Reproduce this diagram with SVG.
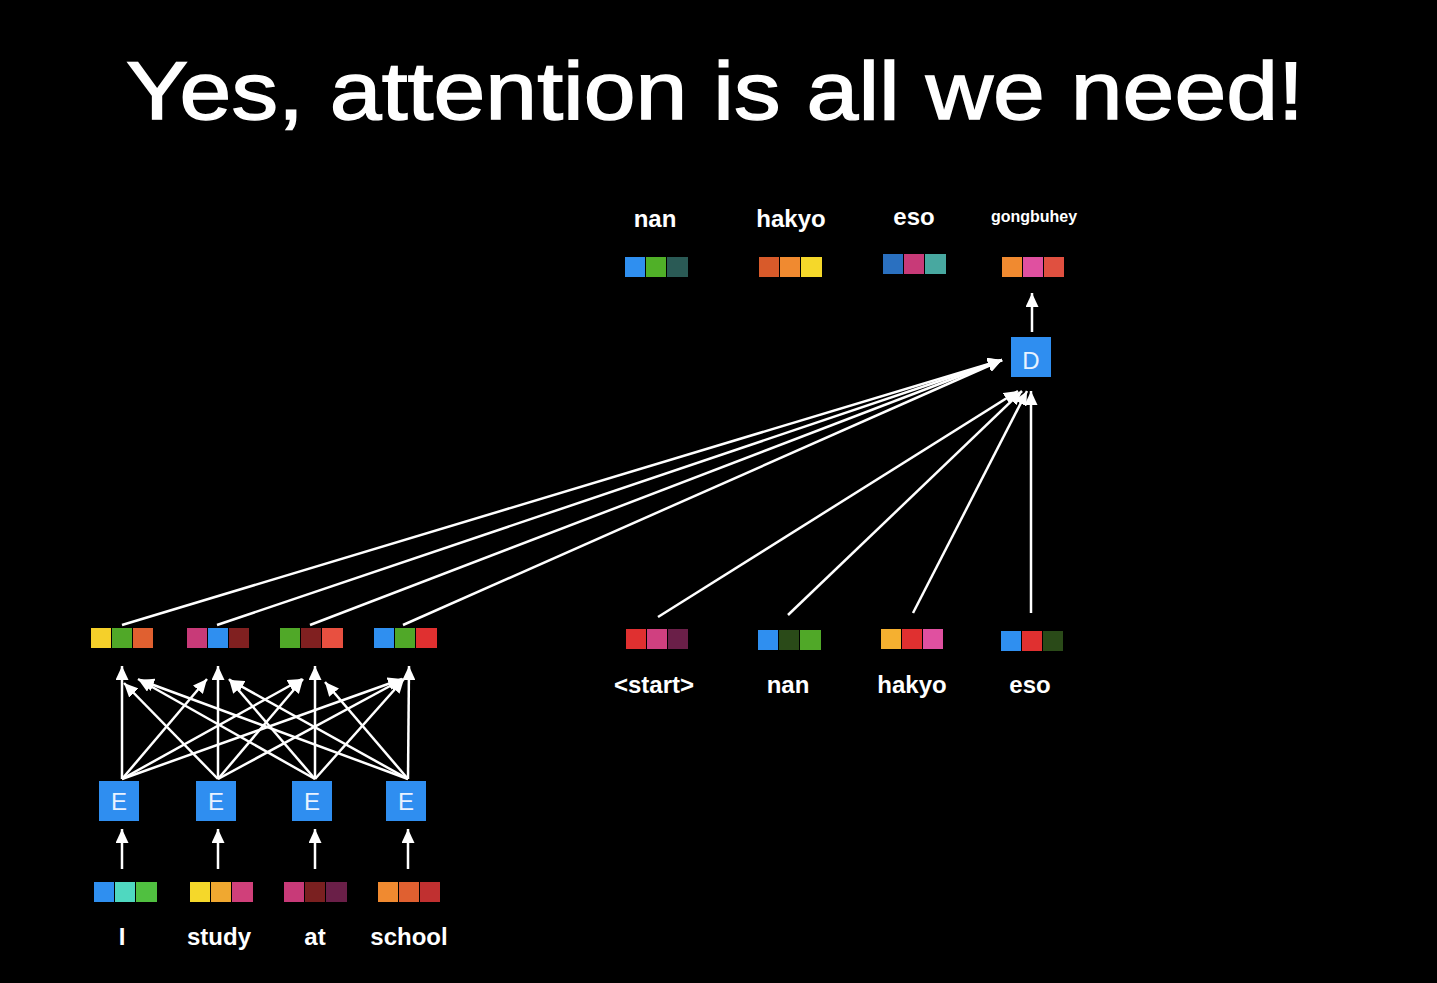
<svg xmlns="http://www.w3.org/2000/svg" width="1437" height="983" viewBox="0 0 1437 983">
<defs>
<marker id="ah" markerUnits="userSpaceOnUse" markerWidth="15" markerHeight="13" refX="14" refY="6.5" orient="auto">
<path d="M0,0 L14,6.5 L0,13 z" fill="#ffffff"/>
</marker>
</defs>
<style>
.lbl{font-family:"Liberation Sans",Arial,sans-serif;font-weight:bold;font-size:24px;fill:#ffffff;text-anchor:middle}
.box{fill:#2f8ef0}
.bt{font-family:"Liberation Sans",Arial,sans-serif;font-size:24px;fill:#e8f2ff;text-anchor:middle}
.c line{stroke:#ffffff;stroke-width:2.5;fill:none;marker-end:url(#ah)}
</style>
<rect x="0" y="0" width="1437" height="983" fill="#000000"/>
<text x="126" y="119" font-family="'Liberation Sans',Arial,sans-serif" font-size="81" fill="#ffffff" stroke="#ffffff" stroke-width="1.4" textLength="1178" lengthAdjust="spacingAndGlyphs">Yes, attention is all we need!</text>

<g id="out-nan"><text class="lbl" x="655" y="227">nan</text>
<rect x="625" y="257" width="20" height="20" fill="#2f8ff0"/><rect x="646" y="257" width="20" height="20" fill="#50b028"/><rect x="667" y="257" width="21" height="20" fill="#2a5a55"/></g>
<g id="out-hakyo"><text class="lbl" x="791" y="227">hakyo</text>
<rect x="759" y="257" width="20" height="20" fill="#d85a2a"/><rect x="780" y="257" width="20" height="20" fill="#f08a30"/><rect x="801" y="257" width="21" height="20" fill="#f5d82a"/></g>
<g id="out-eso"><text class="lbl" x="914" y="225">eso</text>
<rect x="883" y="254" width="20" height="20" fill="#2a70c0"/><rect x="904" y="254" width="20" height="20" fill="#c83a78"/><rect x="925" y="254" width="21" height="20" fill="#48a8a0"/></g>
<g id="out-gongbuhey"><text class="lbl" x="1034" y="222" style="font-size:16px">gongbuhey</text>
<rect x="1002" y="257" width="20" height="20" fill="#f08a30"/><rect x="1023" y="257" width="20" height="20" fill="#e050a0"/><rect x="1044" y="257" width="20" height="20" fill="#e05040"/></g>

<g id="D"><rect class="box" x="1011" y="337" width="40" height="40"/><text class="bt" x="1031" y="369">D</text></g>

<g id="enc-out-1"><rect x="91" y="628" width="20" height="20" fill="#f5d02a"/><rect x="112" y="628" width="20" height="20" fill="#50a828"/><rect x="133" y="628" width="20" height="20" fill="#e06030"/></g>
<g id="enc-out-2"><rect x="187" y="628" width="20" height="20" fill="#c83a78"/><rect x="208" y="628" width="20" height="20" fill="#2f8ff0"/><rect x="229" y="628" width="20" height="20" fill="#802020"/></g>
<g id="enc-out-3"><rect x="280" y="628" width="20" height="20" fill="#50a828"/><rect x="301" y="628" width="20" height="20" fill="#802020"/><rect x="322" y="628" width="21" height="20" fill="#e85040"/></g>
<g id="enc-out-4"><rect x="374" y="628" width="20" height="20" fill="#2f8ff0"/><rect x="395" y="628" width="20" height="20" fill="#50a828"/><rect x="416" y="628" width="21" height="20" fill="#e03030"/></g>

<g id="E1"><rect class="box" x="99" y="781" width="40" height="40"/><text class="bt" x="119" y="810">E</text></g>
<g id="E2"><rect class="box" x="196" y="781" width="40" height="40"/><text class="bt" x="216" y="810">E</text></g>
<g id="E3"><rect class="box" x="292" y="781" width="40" height="40"/><text class="bt" x="312" y="810">E</text></g>
<g id="E4"><rect class="box" x="386" y="781" width="40" height="40"/><text class="bt" x="406" y="810">E</text></g>

<g id="in-I"><rect x="94" y="882" width="20" height="20" fill="#2f8ff0"/><rect x="115" y="882" width="20" height="20" fill="#4fd8c0"/><rect x="136" y="882" width="21" height="20" fill="#50c040"/><text class="lbl" x="122" y="945">I</text></g>
<g id="in-study"><rect x="190" y="882" width="20" height="20" fill="#f5d82a"/><rect x="211" y="882" width="20" height="20" fill="#f0a830"/><rect x="232" y="882" width="21" height="20" fill="#d0407a"/><text class="lbl" x="219" y="945">study</text></g>
<g id="in-at"><rect x="284" y="882" width="20" height="20" fill="#c83a78"/><rect x="305" y="882" width="20" height="20" fill="#7a2020"/><rect x="326" y="882" width="21" height="20" fill="#6a1f48"/><text class="lbl" x="315" y="945">at</text></g>
<g id="in-school"><rect x="378" y="882" width="20" height="20" fill="#f08a30"/><rect x="399" y="882" width="20" height="20" fill="#e06030"/><rect x="420" y="882" width="20" height="20" fill="#c03030"/><text class="lbl" x="409" y="945">school</text></g>

<g id="dec-start"><rect x="626" y="629" width="20" height="20" fill="#e03030"/><rect x="647" y="629" width="20" height="20" fill="#d04080"/><rect x="668" y="629" width="20" height="20" fill="#6a1f48"/><text class="lbl" x="654" y="693">&lt;start&gt;</text></g>
<g id="dec-nan"><rect x="758" y="630" width="20" height="20" fill="#2f8ff0"/><rect x="779" y="630" width="20" height="20" fill="#2a4a18"/><rect x="800" y="630" width="21" height="20" fill="#50a828"/><text class="lbl" x="788" y="693">nan</text></g>
<g id="dec-hakyo"><rect x="881" y="629" width="20" height="20" fill="#f5b030"/><rect x="902" y="629" width="20" height="20" fill="#e03030"/><rect x="923" y="629" width="20" height="20" fill="#e050a0"/><text class="lbl" x="912" y="693">hakyo</text></g>
<g id="dec-eso"><rect x="1001" y="631" width="20" height="20" fill="#2f8ff0"/><rect x="1022" y="631" width="20" height="20" fill="#e03030"/><rect x="1043" y="631" width="20" height="20" fill="#2a4a18"/><text class="lbl" x="1030" y="693">eso</text></g>

<g id="connectors" class="c">
<line x1="1032" y1="332" x2="1032" y2="293"/>
<line x1="122" y1="869" x2="122" y2="829"/>
<line x1="218" y1="869" x2="218" y2="829"/>
<line x1="315" y1="869" x2="315" y2="829"/>
<line x1="408" y1="869" x2="408" y2="829"/>
<line x1="122" y1="779" x2="122" y2="666"/>
<line x1="218" y1="779" x2="218" y2="666"/>
<line x1="315" y1="779" x2="315" y2="666"/>
<line x1="408" y1="779" x2="409" y2="666"/>
<line x1="122" y1="779" x2="207" y2="679"/>
<line x1="122" y1="779" x2="302" y2="679"/>
<line x1="122" y1="779" x2="402" y2="679"/>
<line x1="218" y1="779" x2="124" y2="683"/>
<line x1="218" y1="779" x2="303" y2="679"/>
<line x1="218" y1="779" x2="403" y2="679"/>
<line x1="315" y1="779" x2="138" y2="679"/>
<line x1="315" y1="779" x2="229" y2="679"/>
<line x1="315" y1="779" x2="404" y2="679"/>
<line x1="408" y1="779" x2="140" y2="680"/>
<line x1="408" y1="779" x2="230" y2="680"/>
<line x1="408" y1="779" x2="325" y2="682"/>
<line x1="122" y1="625" x2="1002" y2="360"/>
<line x1="217" y1="625" x2="1002" y2="360"/>
<line x1="310" y1="625" x2="1002" y2="360"/>
<line x1="403" y1="625" x2="1002" y2="360"/>
<line x1="658" y1="617" x2="1018" y2="391"/>
<line x1="788" y1="615" x2="1022" y2="391"/>
<line x1="913" y1="613" x2="1027" y2="391"/>
<line x1="1031" y1="613" x2="1031" y2="391"/>
</g>
</svg>
